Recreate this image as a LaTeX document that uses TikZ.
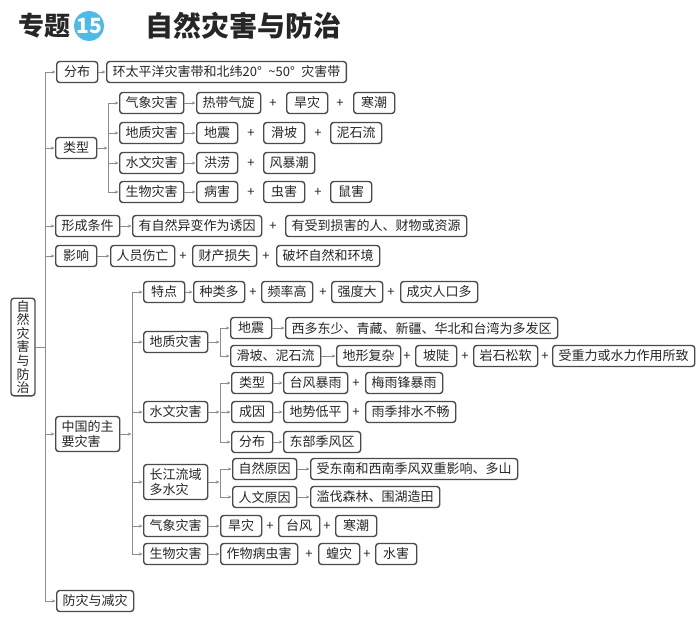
\documentclass[tikz,border=0pt]{standalone}
\usepackage{fontspec}
\setmainfont{Noto Sans CJK SC}
\usetikzlibrary{arrows.meta, positioning}

\definecolor{boxgray}{HTML}{4A4A4A}
\definecolor{linegray}{HTML}{8C8C8C}
\definecolor{textgray}{HTML}{262626}
\definecolor{titleblue}{HTML}{4BBBE8}

\newcommand\boxfont{\fontsize{13}{15}\selectfont}

\tikzset{
    box/.style={draw=boxgray, line width=1.4pt, rounded corners=3pt, fill=white,
        inner xsep=6pt, inner ysep=2pt, minimum height=21pt, minimum width=41pt,
        anchor=west, font=\boxfont, text=textgray},
    plus/.style={font=\boxfont, inner sep=0pt, text=textgray},
    link/.style={draw=linegray, line width=0.8pt},
}

\begin{document}
\begin{tikzpicture}[x=1pt, y=-1pt, >={Stealth[length=3.5pt,width=3pt]}, shorten >=0.5pt]
    \useasboundingbox (0,0) rectangle (698,629);
    % title
    \node[font=\bfseries\fontsize{26}{26}\selectfont, text=textgray] (ttopic) at (44,26) {专题};
    \node[circle, fill=titleblue, minimum size=28pt, inner sep=0pt, text=white,
        font=\bfseries\fontsize{21}{21}\selectfont] (tnum) at (89,26) {15};
    \node[font=\bfseries\fontsize{28}{28}\selectfont, text=textgray] (tname) at (243,26) {自然灾害与防治};

    % root and first level
    \node[box, anchor=center, align=center, text width=13pt, inner xsep=5.5pt, minimum width=0pt,
        font=\fontsize{13}{13.6}\selectfont] (root) at (23,347) {自\\然\\灾\\害\\与\\防\\治};
    \node[box] (fb) at (56,72) {分布};
    \node[box] (lx) at (55,148) {类型};
    \node[box] (xc) at (55,226) {形成条件};
    \node[box] (yx) at (55,256) {影响};
    \node[box, align=left, text width=52pt, inner ysep=4pt] (zg) at (55,434) {中国的主\\要灾害};
    \node[box] (fz) at (56,601) {防灾与减灾};
    \coordinate (t1) at (45,0);
    \coordinate (t2) at (108,0);
    \coordinate (t3) at (132,0);
    \coordinate (t4) at (220,0);

    % distribution
    \node[box] (fbt) at (106,72) {环太平洋灾害带和北纬20°\enspace\textasciitilde50°\enspace 灾害带};

    % types
    \node[box] (lqx) at (119,103) {气象灾害};
    \node[box] (lrd) at (196,103) {热带气旋};
    \node[plus] (lp1) at (273,103) {+};
    \node[box] (lhz) at (286,103) {旱灾};
    \node[plus] (lp2) at (340,103) {+};
    \node[box] (lhc) at (353,103) {寒潮};

    \node[box] (ldz) at (119,133) {地质灾害};
    \node[box] (ldzz) at (196,133) {地震};
    \node[plus] (lp3) at (251,133) {+};
    \node[box] (lhp) at (263,133) {滑坡};
    \node[plus] (lp4) at (318,133) {+};
    \node[box] (lnsl) at (330,133) {泥石流};

    \node[box] (lsw) at (119,163) {水文灾害};
    \node[box] (lhl) at (196,163) {洪涝};
    \node[plus] (lp5) at (251,163) {+};
    \node[box] (lfbc) at (263,163) {风暴潮};

    \node[box] (lsh) at (119,192) {生物灾害};
    \node[box] (lbh) at (196,192) {病害};
    \node[plus] (lp6) at (251,192) {+};
    \node[box] (lch) at (263,192) {虫害};
    \node[plus] (lp7) at (318,192) {+};
    \node[box] (lsuh) at (330,192) {鼠害};

    % conditions and effects
    \node[box] (xc1) at (132,226) {有自然异变作为诱因};
    \node[plus] (xp1) at (273,226) {+};
    \node[box] (xc2) at (285,226) {有受到损害的人、财物或资源};

    \node[box] (yx1) at (110,256) {人员伤亡};
    \node[plus] (yp1) at (183,256) {+};
    \node[box] (yx2) at (192,256) {财产损失};
    \node[plus] (yp2) at (266,256) {+};
    \node[box] (yx3) at (276,256) {破坏自然和环境};

    % china
    \node[box] (ztd) at (143,292) {特点};
    \node[box] (ztd1) at (193,292) {种类多};
    \node[plus] (zp1) at (253,292) {+};
    \node[box] (ztd2) at (261,292) {频率高};
    \node[plus] (zp2) at (323,292) {+};
    \node[box] (ztd3) at (331,292) {强度大};
    \node[plus] (zp3) at (391,292) {+};
    \node[box] (ztd4) at (400,292) {成灾人口多};

    \node[box] (zdz) at (143,342) {地质灾害};
    \node[box] (zdzz) at (230,328) {地震};
    \node[box] (zdzq) at (285,328) {西多东少、青藏、新疆、华北和台湾为多发区};
    \node[box] (zhp) at (230,356) {滑坡、泥石流};
    \node[box] (zhp1) at (336,356) {地形复杂};
    \node[plus] (zp4) at (407,356) {+};
    \node[box] (zhp2) at (415,356) {坡陡};
    \node[plus] (zp5) at (465,356) {+};
    \node[box] (zhp3) at (473,356) {岩石松软};
    \node[plus] (zp6) at (545,356) {+};
    \node[box] (zhp4) at (552,356) {受重力或水力作用所致};

    \node[box] (zsw) at (143,412) {水文灾害};
    \node[box] (zlx) at (231,383) {类型};
    \node[box] (zlx1) at (283,383) {台风暴雨};
    \node[plus] (zp7) at (356,383) {+};
    \node[box] (zlx2) at (365,383) {梅雨锋暴雨};
    \node[box] (zcy) at (231,412) {成因};
    \node[box] (zcy1) at (283,412) {地势低平};
    \node[plus] (zp8) at (356,412) {+};
    \node[box] (zcy2) at (365,412) {雨季排水不畅};
    \node[box] (zfb) at (231,442) {分布};
    \node[box] (zfb1) at (283,442) {东部季风区};

    \node[box, align=left, text width=52pt, inner ysep=4pt] (zcj) at (143,482) {长江流域\\多水灾};
    \node[box] (zzr) at (232,469) {自然原因};
    \node[box] (zzr1) at (310,469) {受东南和西南季风双重影响、多山};
    \node[box] (zrw) at (232,497) {人文原因};
    \node[box] (zrw1) at (310,497) {滥伐森林、围湖造田};

    \node[box] (zqx) at (143,526) {气象灾害};
    \node[box] (zqx1) at (220,526) {旱灾};
    \node[plus] (zp9) at (270,526) {+};
    \node[box] (zqx2) at (278,526) {台风};
    \node[plus] (zp10) at (327,526) {+};
    \node[box] (zqx3) at (335,526) {寒潮};

    \node[box] (zsh) at (143,554) {生物灾害};
    \node[box] (zsh1) at (220,554) {作物病虫害};
    \node[plus] (zp11) at (309,554) {+};
    \node[box] (zsh2) at (318,554) {蝗灾};
    \node[plus] (zp12) at (367,554) {+};
    \node[box] (zsh3) at (375,554) {水害};

    % trunks
    \draw[link] (root.east) -- (root.east -| t1);
    \draw[link] (fb.west -| t1) -- (fz.west -| t1);
    \foreach \n in {fb,lx,xc,yx,zg,fz}
        \draw[link,->] (\n.west -| t1) -- (\n.west);
    \draw[link,->] (lx.east) -- (lx.east -| t2);
    \draw[link] (lqx.west -| t2) -- (lsh.west -| t2);
    \foreach \n in {lqx,ldz,lsw,lsh}
        \draw[link,->] (\n.west -| t2) -- (\n.west);
    \draw[link,->] (zg.east) -- (zg.east -| t3);
    \draw[link] (ztd.west -| t3) -- (zsh.west -| t3);
    \foreach \n in {ztd,zdz,zsw,zcj,zqx,zsh}
        \draw[link,->] (\n.west -| t3) -- (\n.west);
    \foreach \a/\b/\c in {zdz/zdzz/zhp, zsw/zlx/zfb, zcj/zzr/zrw} {
        \draw[link,->] (\a.east) -- (\a.east -| t4);
        \draw[link] (\b.west -| t4) -- (\c.west -| t4);
    }
    \foreach \n in {zdzz,zhp,zlx,zcy,zfb,zzr,zrw}
        \draw[link,->] (\n.west -| t4) -- (\n.west);

    % box to box
    \foreach \a/\b in {fb/fbt, lqx/lrd, ldz/ldzz, lsw/lhl, lsh/lbh, xc/xc1, yx/yx1,
        ztd/ztd1, zdzz/zdzq, zhp/zhp1, zlx/zlx1, zcy/zcy1, zfb/zfb1, zzr/zzr1, zrw/zrw1,
        zqx/zqx1, zsh/zsh1}
        \draw[link,->] (\a.east) -- (\b.west);
\end{tikzpicture}
\end{document}
